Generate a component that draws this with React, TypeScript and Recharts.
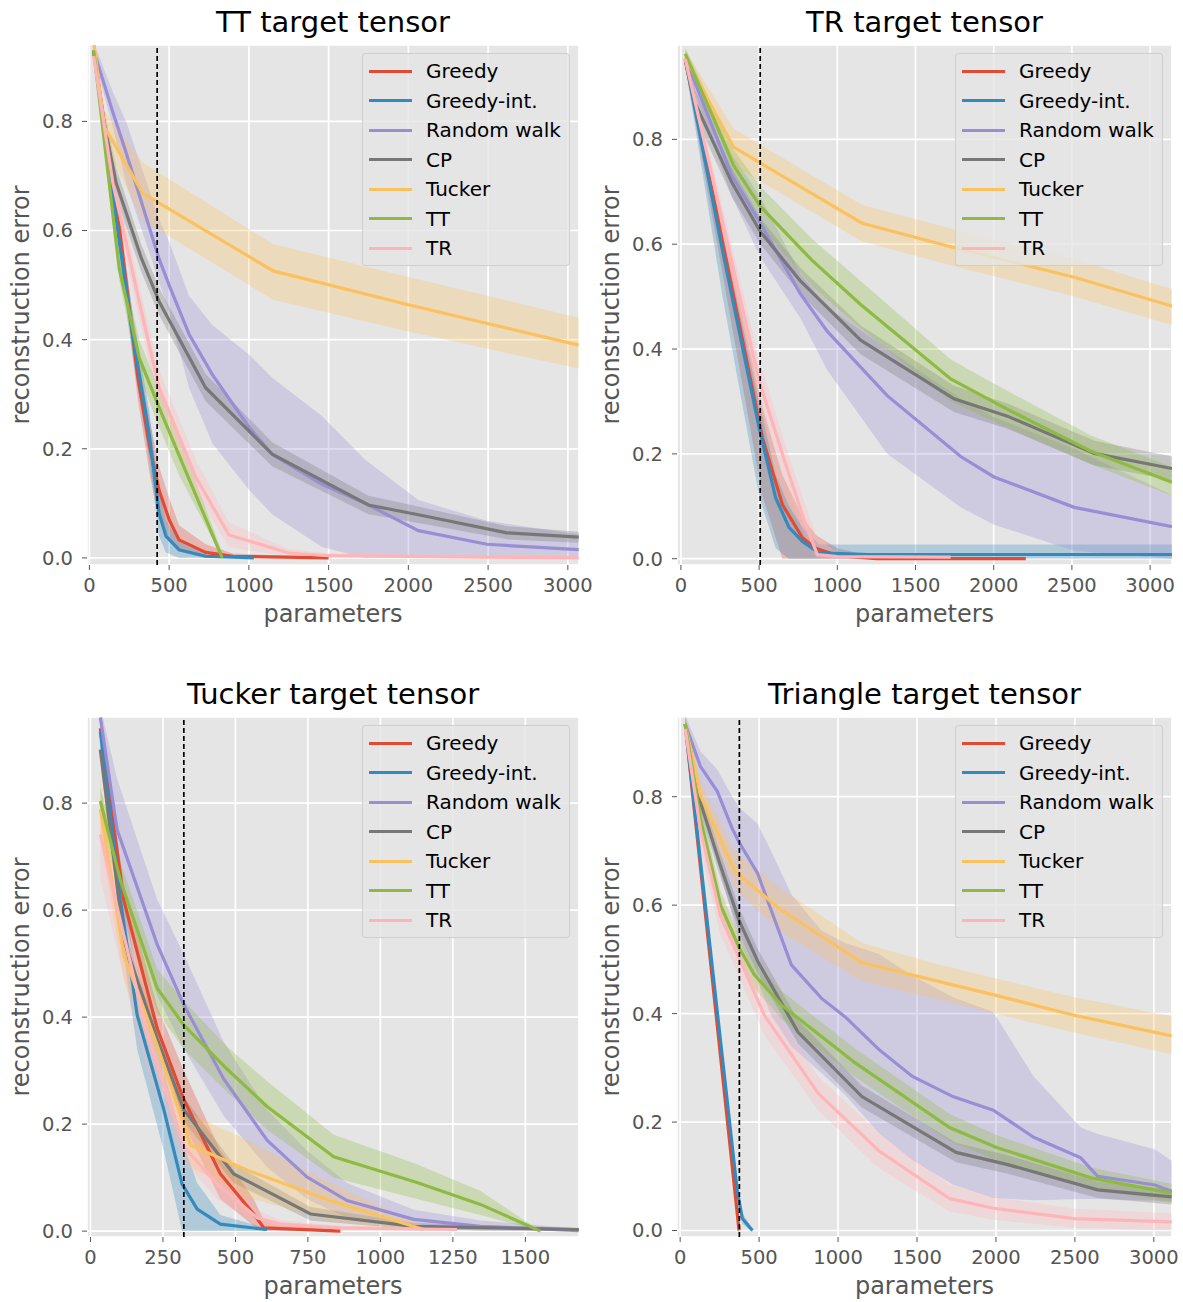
import React from 'react';
import { ComposedChart, Line, Area, XAxis, YAxis, CartesianGrid, ReferenceLine } from 'recharts';

type Pt = [number, number, number, number]; // [parameters, mean, low, high]

const SERIES_NAMES = ['Greedy', 'Greedy-int.', 'Random walk', 'CP', 'Tucker', 'TT', 'TR'];
const SERIES_COLORS = ['#E24A33', '#348ABD', '#988ED5', '#777777', '#FBC15E', '#8EBA42', '#FFB5B8'];
const PANEL_TITLES = ['TT target tensor', 'TR target tensor', 'Tucker target tensor', 'Triangle target tensor'];
const Y_TICKS = [0, 0.2, 0.4, 0.6, 0.8];
const X_TICKS_3000 = [0, 500, 1000, 1500, 2000, 2500, 3000];
const X_TICKS_1500 = [0, 250, 500, 750, 1000, 1250, 1500];
const DASHED_X = [425, 507, 322, 375];

// ---------- TT target tensor ----------
const TT_GREEDY: Pt[] = [
  [27, 0.93, 0.92, 0.94], [190, 0.6, 0.57, 0.63], [304, 0.33, 0.29, 0.37], [380, 0.2, 0.15, 0.25],
  [437, 0.124, 0.07, 0.167], [500, 0.07, 0.035, 0.11], [562, 0.033, 0.012, 0.06], [729, 0.01, 0.0, 0.025],
  [900, 0.003, 0.0, 0.008], [1500, 0.0, 0.0, 0.001],
];
const TT_GREEDY_INT: Pt[] = [
  [27, 0.93, 0.92, 0.94], [178, 0.6, 0.57, 0.63], [271, 0.41, 0.37, 0.45], [375, 0.227, 0.18, 0.27],
  [437, 0.082, 0.04, 0.12], [480, 0.04, 0.01, 0.07], [562, 0.015, 0.0, 0.03], [729, 0.003, 0.0, 0.006],
  [1031, 0.0, 0.0, 0.002],
];
const TT_RW: Pt[] = [
  [27, 0.93, 0.92, 0.945], [147, 0.817, 0.79, 0.854], [230, 0.743, 0.687, 0.8], [437, 0.548, 0.506, 0.62],
  [500, 0.5, 0.45, 0.58], [625, 0.41, 0.312, 0.48], [771, 0.336, 0.21, 0.427], [1000, 0.24, 0.125, 0.373],
  [1146, 0.19, 0.08, 0.33], [1458, 0.135, 0.02, 0.26], [1729, 0.1, 0.0, 0.18], [2063, 0.05, 0.0, 0.106],
  [2492, 0.025, 0.0, 0.068], [3068, 0.015, 0.0, 0.043],
];
const TT_CP: Pt[] = [
  [27, 0.93, 0.915, 0.945], [90, 0.8, 0.775, 0.825], [168, 0.687, 0.66, 0.715], [325, 0.55, 0.525, 0.575],
  [437, 0.47, 0.445, 0.495], [729, 0.312, 0.287, 0.337], [1146, 0.19, 0.168, 0.212], [1750, 0.097, 0.08, 0.114],
  [2063, 0.079, 0.064, 0.094], [2618, 0.046, 0.034, 0.058], [3068, 0.038, 0.028, 0.048],
];
const TT_TUCKER: Pt[] = [
  [27, 0.945, 0.93, 0.96], [94, 0.79, 0.76, 0.82], [335, 0.668, 0.619, 0.724], [1152, 0.526, 0.473, 0.575],
  [2000, 0.464, 0.415, 0.515], [3068, 0.39, 0.347, 0.44],
];
const TT_TT: Pt[] = [
  [27, 0.93, 0.915, 0.945], [187, 0.53, 0.51, 0.55], [250, 0.45, 0.42, 0.48], [312, 0.367, 0.335, 0.4],
  [437, 0.276, 0.24, 0.31], [565, 0.186, 0.15, 0.22], [833, 0.0, 0.0, 0.01],
];
const TT_TR: Pt[] = [
  [27, 0.92, 0.905, 0.935], [147, 0.687, 0.66, 0.715], [312, 0.47, 0.44, 0.5], [437, 0.312, 0.28, 0.345],
  [667, 0.148, 0.12, 0.18], [875, 0.042, 0.02, 0.065], [1250, 0.009, 0.002, 0.016], [1500, 0.004, 0.0, 0.008],
  [3068, 0.0, 0.0, 0.001],
];

// ---------- TR target tensor ----------
const TR_GREEDY: Pt[] = [
  [28, 0.953, 0.94, 0.965], [521, 0.231, 0.12, 0.29], [649, 0.103, 0.0, 0.16], [777, 0.04, 0.0, 0.08],
  [862, 0.02, 0.0, 0.045], [1000, 0.006, 0.0, 0.02], [1250, 0.0, 0.0, 0.003], [2205, 0.0, 0.0, 0.0],
];
const TR_GREEDY_INT: Pt[] = [
  [28, 0.953, 0.94, 0.965], [266, 0.588, 0.5, 0.62], [500, 0.25, 0.12, 0.3], [606, 0.116, 0.02, 0.16],
  [691, 0.06, 0.0, 0.1], [777, 0.033, 0.0, 0.06], [883, 0.011, 0.0, 0.027], [1200, 0.008, 0.0, 0.027],
  [3140, 0.008, 0.0, 0.027],
];
const TR_RW: Pt[] = [
  [28, 0.955, 0.94, 0.97], [327, 0.73, 0.69, 0.77], [508, 0.64, 0.575, 0.69], [764, 0.505, 0.459, 0.543],
  [935, 0.434, 0.36, 0.48], [1319, 0.311, 0.2, 0.4], [1789, 0.195, 0.098, 0.305], [2002, 0.156, 0.065, 0.27],
  [2515, 0.098, 0.015, 0.21], [3140, 0.061, 0.0, 0.121],
];
const TR_CP: Pt[] = [
  [28, 0.95, 0.935, 0.965], [90, 0.87, 0.845, 0.895], [327, 0.717, 0.69, 0.745], [508, 0.624, 0.6, 0.65],
  [764, 0.53, 0.505, 0.555], [1149, 0.417, 0.39, 0.445], [1746, 0.305, 0.28, 0.33], [2088, 0.272, 0.248, 0.296],
  [2643, 0.201, 0.178, 0.225], [3140, 0.172, 0.15, 0.195],
];
const TR_TUCKER: Pt[] = [
  [28, 0.956, 0.94, 0.97], [337, 0.785, 0.75, 0.82], [1159, 0.64, 0.605, 0.675], [1725, 0.595, 0.56, 0.63],
  [2515, 0.537, 0.5, 0.572], [3140, 0.482, 0.446, 0.514],
];
const TR_TT: Pt[] = [
  [28, 0.963, 0.95, 0.975], [209, 0.84, 0.82, 0.86], [337, 0.75, 0.72, 0.78], [508, 0.672, 0.635, 0.71],
  [839, 0.569, 0.52, 0.61], [1149, 0.485, 0.44, 0.53], [1725, 0.343, 0.3, 0.38], [2088, 0.285, 0.25, 0.32],
  [2622, 0.205, 0.18, 0.235], [3140, 0.146, 0.12, 0.175],
];
const TR_TR: Pt[] = [
  [28, 0.953, 0.94, 0.965], [500, 0.34, 0.3, 0.38], [670, 0.18, 0.145, 0.215], [798, 0.065, 0.035, 0.1],
  [872, 0.008, 0.0, 0.04], [1000, 0.004, 0.0, 0.012], [1725, 0.003, 0.0, 0.006],
];

// ---------- Tucker target tensor ----------
const TK_GREEDY: Pt[] = [
  [34, 0.94, 0.92, 0.96], [115, 0.618, 0.59, 0.65], [230, 0.379, 0.34, 0.42], [322, 0.246, 0.2, 0.3],
  [448, 0.107, 0.06, 0.15], [563, 0.032, 0.01, 0.06], [598, 0.006, 0.0, 0.02], [862, 0.0, 0.0, 0.002],
];
const TK_GREEDY_INT: Pt[] = [
  [34, 0.934, 0.92, 0.95], [103, 0.62, 0.56, 0.68], [161, 0.404, 0.34, 0.47], [253, 0.227, 0.15, 0.3],
  [316, 0.088, 0.0, 0.17], [368, 0.041, 0.0, 0.09], [448, 0.013, 0.0, 0.03], [609, 0.003, 0.0, 0.005],
];
const TK_RW: Pt[] = [
  [34, 0.96, 0.94, 0.98], [92, 0.75, 0.675, 0.845], [230, 0.536, 0.44, 0.62], [322, 0.423, 0.341, 0.517],
  [460, 0.284, 0.215, 0.353], [609, 0.17, 0.12, 0.227], [747, 0.101, 0.06, 0.15], [885, 0.057, 0.025, 0.09],
  [1115, 0.022, 0.005, 0.04], [1345, 0.009, 0.0, 0.02], [1684, 0.001, 0.0, 0.005],
];
const TK_CP: Pt[] = [
  [34, 0.9, 0.88, 0.92], [115, 0.543, 0.52, 0.565], [230, 0.36, 0.34, 0.38], [322, 0.227, 0.205, 0.25],
  [494, 0.107, 0.09, 0.125], [759, 0.032, 0.02, 0.045], [1115, 0.009, 0.003, 0.015], [1684, 0.003, 0.0, 0.006],
];
const TK_TUCKER: Pt[] = [
  [34, 0.789, 0.74, 0.84], [115, 0.517, 0.47, 0.56], [230, 0.347, 0.3, 0.39], [316, 0.208, 0.17, 0.25],
  [345, 0.161, 0.12, 0.22], [540, 0.114, 0.063, 0.17], [828, 0.057, 0.02, 0.09], [1149, 0.003, 0.0, 0.01],
];
const TK_TT: Pt[] = [
  [34, 0.804, 0.78, 0.83], [103, 0.656, 0.62, 0.69], [230, 0.454, 0.41, 0.49], [322, 0.385, 0.34, 0.43],
  [471, 0.303, 0.26, 0.345], [609, 0.233, 0.19, 0.28], [839, 0.139, 0.1, 0.18], [1126, 0.091, 0.06, 0.125],
  [1345, 0.05, 0.03, 0.075], [1552, 0.0, 0.0, 0.0],
];
const TK_TR: Pt[] = [
  [34, 0.741, 0.66, 0.78], [103, 0.58, 0.5, 0.64], [195, 0.372, 0.3, 0.43], [322, 0.158, 0.13, 0.2],
  [437, 0.088, 0.06, 0.12], [575, 0.025, 0.01, 0.04], [655, 0.013, 0.0, 0.02], [862, 0.006, 0.0, 0.01],
  [1264, 0.003, 0.0, 0.005],
];

// ---------- Triangle target tensor ----------
const TRI_GREEDY: Pt[] = [[32, 0.934, 0.925, 0.943], [373, 0.0, -0.005, 0.005]];
const TRI_GREEDY_INT: Pt[] = [
  [32, 0.934, 0.925, 0.943], [362, 0.072, 0.062, 0.082], [394, 0.022, 0.012, 0.032], [458, 0.0, -0.003, 0.003],
];
const TRI_RW: Pt[] = [
  [32, 0.934, 0.92, 0.95], [128, 0.856, 0.78, 0.884], [235, 0.81, 0.68, 0.85], [330, 0.741, 0.58, 0.8],
  [373, 0.716, 0.534, 0.78], [490, 0.659, 0.46, 0.75], [576, 0.591, 0.397, 0.7], [704, 0.49, 0.34, 0.62],
  [896, 0.428, 0.29, 0.553], [1045, 0.394, 0.25, 0.53], [1258, 0.334, 0.18, 0.51], [1471, 0.284, 0.13, 0.47],
  [1727, 0.247, 0.085, 0.43], [1983, 0.222, 0.06, 0.403], [2239, 0.172, 0.056, 0.284], [2537, 0.134, 0.058, 0.19],
  [2644, 0.1, 0.058, 0.178], [3006, 0.084, 0.055, 0.15], [3113, 0.072, 0.053, 0.128],
];
const TRI_CP: Pt[] = [
  [32, 0.934, 0.92, 0.948], [128, 0.79, 0.77, 0.81], [256, 0.672, 0.65, 0.695], [373, 0.572, 0.55, 0.595],
  [490, 0.497, 0.475, 0.52], [746, 0.366, 0.345, 0.388], [1151, 0.247, 0.227, 0.267], [1748, 0.144, 0.126, 0.162],
  [2068, 0.122, 0.105, 0.139], [2644, 0.075, 0.06, 0.09], [3113, 0.062, 0.048, 0.076],
];
const TRI_TUCKER: Pt[] = [
  [32, 0.934, 0.92, 0.95], [128, 0.803, 0.775, 0.83], [341, 0.666, 0.635, 0.7], [384, 0.653, 0.62, 0.69],
  [640, 0.591, 0.55, 0.63], [1151, 0.494, 0.46, 0.53], [1642, 0.459, 0.425, 0.49], [1994, 0.434, 0.4, 0.465],
  [2495, 0.397, 0.365, 0.43], [3113, 0.359, 0.325, 0.395],
];
const TRI_TT: Pt[] = [
  [32, 0.934, 0.92, 0.948], [128, 0.76, 0.735, 0.785], [256, 0.6, 0.575, 0.625], [373, 0.522, 0.497, 0.547],
  [469, 0.472, 0.447, 0.497], [640, 0.416, 0.39, 0.442], [1109, 0.309, 0.283, 0.335], [1706, 0.19, 0.165, 0.215],
  [2004, 0.153, 0.13, 0.176], [2601, 0.097, 0.078, 0.116], [3113, 0.069, 0.052, 0.086],
];
const TRI_TR: Pt[] = [
  [32, 0.925, 0.91, 0.94], [128, 0.74, 0.705, 0.775], [256, 0.58, 0.545, 0.615], [373, 0.503, 0.468, 0.538],
  [533, 0.397, 0.36, 0.435], [874, 0.253, 0.222, 0.284], [1258, 0.147, 0.115, 0.18], [1706, 0.059, 0.035, 0.085],
  [1983, 0.041, 0.02, 0.062], [2495, 0.022, 0.005, 0.04], [3113, 0.016, 0.0, 0.032],
];

const PANEL_SERIES: Pt[][][] = [
  [TT_GREEDY, TT_GREEDY_INT, TT_RW, TT_CP, TT_TUCKER, TT_TT, TT_TR],
  [TR_GREEDY, TR_GREEDY_INT, TR_RW, TR_CP, TR_TUCKER, TR_TT, TR_TR],
  [TK_GREEDY, TK_GREEDY_INT, TK_RW, TK_CP, TK_TUCKER, TK_TT, TK_TR],
  [TRI_GREEDY, TRI_GREEDY_INT, TRI_RW, TRI_CP, TRI_TUCKER, TRI_TT, TRI_TR],
];

const FONT = '"DejaVu Sans", Verdana, sans-serif';

type Geo = { pl: number; pr: number; pt: number; pb: number; xDomain: [number, number]; yDomain: [number, number]; xTicks: number[] };

const GEOS: Geo[] = [
  { pl: 87, pr: 579, pt: 45, pb: 565, xDomain: [-15, 3070], yDomain: [-0.013, 0.94], xTicks: X_TICKS_3000 },
  { pl: 677, pr: 1172, pt: 45, pb: 565, xDomain: [-25, 3140], yDomain: [-0.012, 0.98], xTicks: X_TICKS_3000 },
  { pl: 87, pr: 579, pt: 717, pb: 1237, xDomain: [-12, 1685], yDomain: [-0.011, 0.961], xTicks: X_TICKS_1500 },
  { pl: 677, pr: 1172, pt: 717, pb: 1237, xDomain: [-20, 3115], yDomain: [-0.012, 0.947], xTicks: X_TICKS_3000 },
];

function toRows(pts: Pt[]) {
  return pts.map(([x, m, lo, hi]) => ({ x, m, band: [lo, hi] }));
}

const YW = 60;
const XH = 34;
const RIGHT_PAD = 40;

function Panel({ idx }: { idx: number }) {
  const g = GEOS[idx];
  const series = PANEL_SERIES[idx];
  const chartLeft = g.pl - YW;
  const chartTop = g.pt - 10;
  const w = g.pr - g.pl + YW + RIGHT_PAD;
  const h = g.pb - g.pt + 10 + XH + 10;
  const cx = (g.pl + g.pr) / 2;
  const cy = (g.pt + g.pb) / 2;
  const children: React.ReactNode[] = [];
  series.forEach((pts, i) => {
    const rows = toRows(pts);
    children.push(
      <Area key={'a' + i} data={rows} dataKey="band" type="linear" stroke="none" fill={SERIES_COLORS[i]}
        fillOpacity={0.3} isAnimationActive={false} dot={false} activeDot={false} />
    );
    children.push(
      <Line key={'l' + i} data={rows} dataKey="m" type="linear" stroke={SERIES_COLORS[i]} strokeWidth={3.2}
        dot={false} activeDot={false} isAnimationActive={false} />
    );
  });
  return (
    <>
      <div style={{ position: 'absolute', left: cx - 250, width: 500, top: g.pt - 23 - 17, textAlign: 'center', fontFamily: FONT, fontSize: 29, color: '#000', lineHeight: '34px' }}>
        {PANEL_TITLES[idx]}
      </div>
      <div style={{ position: 'absolute', left: chartLeft, top: chartTop, overflow: 'visible' }}>
        <ComposedChart width={w} height={h} margin={{ top: 10, right: RIGHT_PAD, left: 0, bottom: 10 }} style={{ overflow: 'visible' }}>
          <CartesianGrid fill="#E5E5E5" fillOpacity={1} stroke="#FFFFFF" strokeWidth={1.7} />
          <XAxis dataKey="x" type="number" domain={g.xDomain} ticks={g.xTicks} allowDataOverflow height={XH}
            axisLine={false} tickLine={{ stroke: '#555555' }} tickSize={5} tickMargin={8}
            tick={{ fill: '#555555', fontSize: 19.5, fontFamily: FONT }} interval={0} />
          <YAxis type="number" domain={g.yDomain} ticks={Y_TICKS} allowDataOverflow width={YW}
            axisLine={false} tickLine={{ stroke: '#555555' }} tickSize={5} tickMargin={9}
            tick={{ fill: '#555555', fontSize: 19.5, fontFamily: FONT }} interval={0}
            tickFormatter={(v: number) => v.toFixed(1)} />
          {children}
          <ReferenceLine x={DASHED_X[idx]} stroke="#000000" strokeWidth={1.7} strokeDasharray="5 3" />
        </ComposedChart>
      </div>
      <div style={{ position: 'absolute', left: cx - 150, width: 300, top: g.pb + 49 - 15, textAlign: 'center', fontFamily: FONT, fontSize: 24, color: '#555555', lineHeight: '30px' }}>
        parameters
      </div>
      <div style={{ position: 'absolute', left: g.pl - 66 - 150, top: cy - 15, width: 300, textAlign: 'center', fontFamily: FONT, fontSize: 24, color: '#555555', lineHeight: '30px', transform: 'rotate(-90deg)' }}>
        reconstruction error
      </div>
      <div style={{ position: 'absolute', left: g.pr - 9 - 208, top: g.pt + 8, width: 208, height: 213, boxSizing: 'border-box', background: 'rgba(229,229,229,0.8)', border: '1px solid rgba(204,204,204,0.9)', borderRadius: 4 }}>
        {SERIES_NAMES.map((name, i) => (
          <div key={name} style={{ position: 'absolute', left: 0, top: 17 + i * 29.5 - 14, height: 28, width: 206 }}>
            <div style={{ position: 'absolute', left: 6, top: 12.5, width: 43, height: 3, background: SERIES_COLORS[i] }} />
            <div style={{ position: 'absolute', left: 63, top: 0, fontFamily: FONT, fontSize: 20, lineHeight: '28px', color: '#000', whiteSpace: 'nowrap' }}>{name}</div>
          </div>
        ))}
      </div>
    </>
  );
}

export default function App() {
  return (
    <div style={{ position: 'absolute', left: 0, top: 0, width: 1183, height: 1302, background: '#fff', overflow: 'hidden' }}>
      <Panel idx={0} />
      <Panel idx={1} />
      <Panel idx={2} />
      <Panel idx={3} />
    </div>
  );
}
